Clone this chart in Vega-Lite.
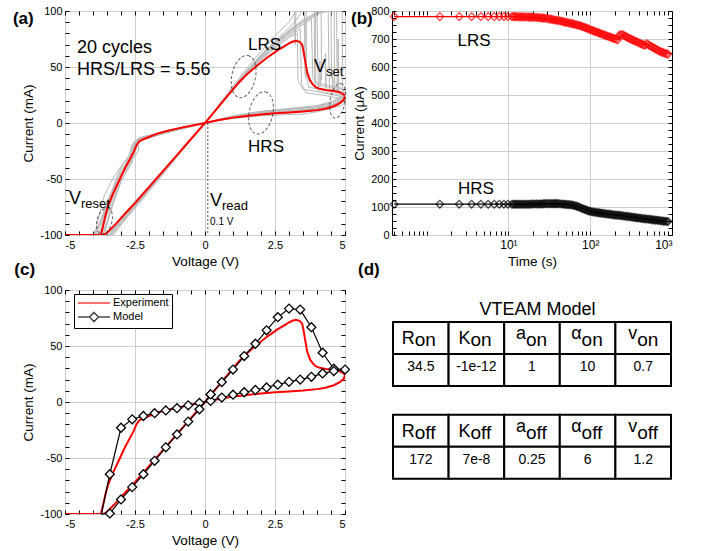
{
"$schema":"https://vega.github.io/schema/vega-lite/v6.json",
"background":"white",
"padding":{"left":12,"top":4,"right":5,"bottom":5},
"config":{
 "font":"Liberation Sans",
 "view":{"stroke":"#000","strokeWidth":1},
 "axis":{"labelFont":"Liberation Sans","labelFontSize":11,"labelColor":"#000","titleFont":"Liberation Sans","titleFontSize":13.5,"titleFontWeight":"normal","titleColor":"#000","tickColor":"#000","domain":false,"gridColor":"#cfcfcf","gridWidth":1,"tickSize":-4,"labelPadding":8,"titlePadding":4},
 "text":{"font":"Liberation Sans","color":"#000"}
},
"resolve":{"scale":{"color":"independent","shape":"independent"},"legend":{"color":"independent","shape":"independent"}},
"datasets":{
"gray":[
{"c":1,"v":0,"i":0},{"c":1,"v":0.5,"i":3},{"c":1,"v":1,"i":5.5},{"c":1,"v":2,"i":9},{"c":1,"v":3,"i":11},{"c":1,"v":4,"i":13.5},{"c":1,"v":4.5,"i":16},{"c":1,"v":4.8,"i":19},{"c":1,"v":5,"i":22},{"c":1,"v":4.8,"i":27},{"c":1,"v":4.3,"i":29},{"c":1,"v":3.7,"i":32},{"c":1,"v":3.62,"i":45},{"c":1,"v":3.6,"i":89},{"c":1,"v":3.5,"i":88},{"c":1,"v":3,"i":79},{"c":1,"v":2.5,"i":69},{"c":1,"v":2,"i":58},{"c":1,"v":1.5,"i":45},{"c":1,"v":1,"i":30},{"c":1,"v":0.5,"i":15},{"c":1,"v":0,"i":0},{"c":1,"v":-1,"i":-28.5},{"c":1,"v":-2,"i":-57},{"c":1,"v":-3,"i":-86},{"c":1,"v":-3.45,"i":-100},{"c":1,"v":-5,"i":-100},{"c":1,"v":-3.8,"i":-100},{"c":1,"v":-3.5,"i":-80},{"c":1,"v":-3.2,"i":-58},{"c":1,"v":-2.9,"i":-42},{"c":1,"v":-2.6,"i":-30},{"c":1,"v":-2.55,"i":-20},{"c":1,"v":-2.45,"i":-18},{"c":1,"v":-2.4,"i":-14},{"c":1,"v":-2,"i":-11},{"c":1,"v":-1.5,"i":-8},{"c":1,"v":-1,"i":-5},{"c":1,"v":-0.5,"i":-2.5},{"c":1,"v":0,"i":0},
{"c":2,"v":0,"i":0},{"c":2,"v":0.5,"i":2.5},{"c":2,"v":1,"i":4.8},{"c":2,"v":2,"i":8},{"c":2,"v":3,"i":10},{"c":2,"v":4,"i":12.5},{"c":2,"v":4.5,"i":15},{"c":2,"v":4.8,"i":17},{"c":2,"v":5,"i":20},{"c":2,"v":4.8,"i":24},{"c":2,"v":4.4,"i":26},{"c":2,"v":4.05,"i":28},{"c":2,"v":4,"i":97},{"c":2,"v":3.5,"i":90},{"c":2,"v":3,"i":81},{"c":2,"v":2.5,"i":71},{"c":2,"v":2,"i":60},{"c":2,"v":1.5,"i":46},{"c":2,"v":1,"i":31},{"c":2,"v":0.5,"i":15.5},{"c":2,"v":0,"i":0},{"c":2,"v":-1,"i":-29.5},{"c":2,"v":-2,"i":-59},{"c":2,"v":-3,"i":-88},{"c":2,"v":-3.4,"i":-100},{"c":2,"v":-5,"i":-100},{"c":2,"v":-3.95,"i":-100},{"c":2,"v":-3.7,"i":-85},{"c":2,"v":-3.4,"i":-65},{"c":2,"v":-3,"i":-45},{"c":2,"v":-2.7,"i":-35},{"c":2,"v":-2.62,"i":-22},{"c":2,"v":-2.5,"i":-19},{"c":2,"v":-2.3,"i":-16},{"c":2,"v":-2,"i":-12.5},{"c":2,"v":-1.5,"i":-9},{"c":2,"v":-1,"i":-6},{"c":2,"v":-0.5,"i":-3},{"c":2,"v":0,"i":0},
{"c":3,"v":0,"i":0},{"c":3,"v":0.5,"i":3.2},{"c":3,"v":1,"i":6},{"c":3,"v":2,"i":10},{"c":3,"v":3,"i":12.5},{"c":3,"v":4,"i":15},{"c":3,"v":4.5,"i":18},{"c":3,"v":4.8,"i":21},{"c":3,"v":5,"i":25},{"c":3,"v":4.8,"i":28},{"c":3,"v":4.45,"i":30},{"c":3,"v":4.42,"i":60},{"c":3,"v":4.4,"i":100},{"c":3,"v":4.2,"i":100},{"c":3,"v":4,"i":99},{"c":3,"v":3.5,"i":92},{"c":3,"v":3,"i":83},{"c":3,"v":2.5,"i":72},{"c":3,"v":2,"i":61},{"c":3,"v":1.5,"i":47},{"c":3,"v":1,"i":31.5},{"c":3,"v":0.5,"i":15.8},{"c":3,"v":0,"i":0},{"c":3,"v":-1,"i":-30},{"c":3,"v":-2,"i":-60},{"c":3,"v":-3,"i":-90},{"c":3,"v":-3.33,"i":-100},{"c":3,"v":-5,"i":-100},{"c":3,"v":-3.9,"i":-100},{"c":3,"v":-3.6,"i":-78},{"c":3,"v":-3.3,"i":-60},{"c":3,"v":-3,"i":-48},{"c":3,"v":-2.75,"i":-38},{"c":3,"v":-2.6,"i":-32},{"c":3,"v":-2.5,"i":-22},{"c":3,"v":-2.45,"i":-17},{"c":3,"v":-2.2,"i":-15},{"c":3,"v":-2,"i":-13},{"c":3,"v":-1.5,"i":-9.5},{"c":3,"v":-1,"i":-6.2},{"c":3,"v":-0.5,"i":-3.2},{"c":3,"v":0,"i":0},
{"c":4,"v":0,"i":0},{"c":4,"v":0.5,"i":2.2},{"c":4,"v":1,"i":4},{"c":4,"v":2,"i":6.5},{"c":4,"v":3,"i":7.5},{"c":4,"v":3.5,"i":8},{"c":4,"v":4,"i":10},{"c":4,"v":4.5,"i":13},{"c":4,"v":4.8,"i":15},{"c":4,"v":5,"i":18},{"c":4,"v":4.8,"i":22},{"c":4,"v":4.2,"i":25},{"c":4,"v":3.6,"i":27},{"c":4,"v":3.45,"i":35},{"c":4,"v":3.4,"i":84},{"c":4,"v":3,"i":77},{"c":4,"v":2.5,"i":67.5},{"c":4,"v":2,"i":57},{"c":4,"v":1.5,"i":44},{"c":4,"v":1,"i":29.5},{"c":4,"v":0.5,"i":14.7},{"c":4,"v":0,"i":0},{"c":4,"v":-1,"i":-28},{"c":4,"v":-2,"i":-56},{"c":4,"v":-3,"i":-84},{"c":4,"v":-3.55,"i":-100},{"c":4,"v":-5,"i":-100},{"c":4,"v":-3.7,"i":-100},{"c":4,"v":-3.5,"i":-88},{"c":4,"v":-3.3,"i":-72},{"c":4,"v":-3.1,"i":-55},{"c":4,"v":-2.85,"i":-40},{"c":4,"v":-2.55,"i":-27},{"c":4,"v":-2.5,"i":-16},{"c":4,"v":-2.3,"i":-14},{"c":4,"v":-2,"i":-11.5},{"c":4,"v":-1.5,"i":-8},{"c":4,"v":-1,"i":-5},{"c":4,"v":-0.5,"i":-2.3},{"c":4,"v":0,"i":0},
{"c":5,"v":0,"i":0},{"c":5,"v":0.5,"i":2.8},{"c":5,"v":1,"i":5.2},{"c":5,"v":2,"i":8.5},{"c":5,"v":3,"i":10.5},{"c":5,"v":4,"i":13},{"c":5,"v":4.5,"i":16},{"c":5,"v":4.8,"i":20},{"c":5,"v":5,"i":24},{"c":5,"v":4.85,"i":27},{"c":5,"v":4.72,"i":30},{"c":5,"v":4.7,"i":100},{"c":5,"v":4.4,"i":100},{"c":5,"v":4,"i":97},{"c":5,"v":3.5,"i":90},{"c":5,"v":3,"i":80.5},{"c":5,"v":2.5,"i":70.5},{"c":5,"v":2,"i":59},{"c":5,"v":1.5,"i":46},{"c":5,"v":1,"i":30.6},{"c":5,"v":0.5,"i":15.3},{"c":5,"v":0,"i":0},{"c":5,"v":-1,"i":-29},{"c":5,"v":-2,"i":-58},{"c":5,"v":-3,"i":-87},{"c":5,"v":-3.45,"i":-100},{"c":5,"v":-5,"i":-100},{"c":5,"v":-3.85,"i":-100},{"c":5,"v":-3.6,"i":-90},{"c":5,"v":-3.4,"i":-75},{"c":5,"v":-3.2,"i":-60},{"c":5,"v":-2.95,"i":-45},{"c":5,"v":-2.7,"i":-28},{"c":5,"v":-2.6,"i":-19},{"c":5,"v":-2.4,"i":-15},{"c":5,"v":-2,"i":-12},{"c":5,"v":-1.5,"i":-8.5},{"c":5,"v":-1,"i":-5.5},{"c":5,"v":-0.5,"i":-2.7},{"c":5,"v":0,"i":0},
{"c":6,"v":0,"i":0},{"c":6,"v":0.5,"i":3},{"c":6,"v":1,"i":5.8},{"c":6,"v":2,"i":9.5},{"c":6,"v":3,"i":12},{"c":6,"v":4,"i":14.5},{"c":6,"v":4.5,"i":17.5},{"c":6,"v":4.8,"i":22},{"c":6,"v":5,"i":26},{"c":6,"v":4.9,"i":30},{"c":6,"v":4.5,"i":33},{"c":6,"v":4,"i":36},{"c":6,"v":3.85,"i":40},{"c":6,"v":3.8,"i":93},{"c":6,"v":3.5,"i":88},{"c":6,"v":3,"i":79},{"c":6,"v":2.5,"i":69},{"c":6,"v":2,"i":58},{"c":6,"v":1.5,"i":45},{"c":6,"v":1,"i":30},{"c":6,"v":0.5,"i":15},{"c":6,"v":0,"i":0},{"c":6,"v":-1,"i":-28.8},{"c":6,"v":-2,"i":-57.5},{"c":6,"v":-3,"i":-86.5},{"c":6,"v":-3.45,"i":-100},{"c":6,"v":-5,"i":-100},{"c":6,"v":-4,"i":-100},{"c":6,"v":-3.75,"i":-92},{"c":6,"v":-3.5,"i":-74},{"c":6,"v":-3.25,"i":-55},{"c":6,"v":-3,"i":-40},{"c":6,"v":-2.75,"i":-30},{"c":6,"v":-2.45,"i":-24},{"c":6,"v":-2.4,"i":-17},{"c":6,"v":-2.2,"i":-14},{"c":6,"v":-2,"i":-12},{"c":6,"v":-1.5,"i":-8.8},{"c":6,"v":-1,"i":-5.8},{"c":6,"v":-0.5,"i":-2.8},{"c":6,"v":0,"i":0},
{"c":7,"v":0,"i":0},{"c":7,"v":0.5,"i":2.7},{"c":7,"v":1,"i":5},{"c":7,"v":2,"i":8.3},{"c":7,"v":3,"i":10.3},{"c":7,"v":4,"i":12.8},{"c":7,"v":4.5,"i":15.5},{"c":7,"v":4.8,"i":19},{"c":7,"v":5,"i":23},{"c":7,"v":4.92,"i":28},{"c":7,"v":4.9,"i":100},{"c":7,"v":4.2,"i":100},{"c":7,"v":4,"i":98},{"c":7,"v":3.5,"i":91.5},{"c":7,"v":3,"i":82},{"c":7,"v":2.5,"i":71.7},{"c":7,"v":2,"i":60.3},{"c":7,"v":1.5,"i":46.8},{"c":7,"v":1,"i":31.2},{"c":7,"v":0.5,"i":15.6},{"c":7,"v":0,"i":0},{"c":7,"v":-1,"i":-29.8},{"c":7,"v":-2,"i":-59.5},{"c":7,"v":-3,"i":-89},{"c":7,"v":-3.37,"i":-100},{"c":7,"v":-5,"i":-100},{"c":7,"v":-3.75,"i":-100},{"c":7,"v":-3.55,"i":-85},{"c":7,"v":-3.35,"i":-68},{"c":7,"v":-3.1,"i":-52},{"c":7,"v":-2.85,"i":-38},{"c":7,"v":-2.55,"i":-28},{"c":7,"v":-2.5,"i":-18},{"c":7,"v":-2.3,"i":-15.5},{"c":7,"v":-2,"i":-12.8},{"c":7,"v":-1.5,"i":-9.2},{"c":7,"v":-1,"i":-6},{"c":7,"v":-0.5,"i":-3},{"c":7,"v":0,"i":0},
{"c":8,"v":0,"i":0},{"c":8,"v":0.5,"i":2.4},{"c":8,"v":1,"i":4.5},{"c":8,"v":2,"i":7.2},{"c":8,"v":3,"i":9},{"c":8,"v":4,"i":11},{"c":8,"v":4.5,"i":13.5},{"c":8,"v":4.8,"i":16.5},{"c":8,"v":5,"i":21},{"c":8,"v":4.85,"i":25},{"c":8,"v":4.3,"i":27},{"c":8,"v":3.5,"i":30},{"c":8,"v":3.32,"i":38},{"c":8,"v":3.3,"i":80},{"c":8,"v":3,"i":76.5},{"c":8,"v":2.5,"i":67},{"c":8,"v":2,"i":56},{"c":8,"v":1.5,"i":43.6},{"c":8,"v":1,"i":29},{"c":8,"v":0.5,"i":14.5},{"c":8,"v":0,"i":0},{"c":8,"v":-1,"i":-28.2},{"c":8,"v":-2,"i":-56.5},{"c":8,"v":-3,"i":-85},{"c":8,"v":-3.52,"i":-100},{"c":8,"v":-5,"i":-100},{"c":8,"v":-3.65,"i":-100},{"c":8,"v":-3.45,"i":-86},{"c":8,"v":-3.25,"i":-70},{"c":8,"v":-3.05,"i":-56},{"c":8,"v":-2.8,"i":-42},{"c":8,"v":-2.6,"i":-33},{"c":8,"v":-2.38,"i":-25},{"c":8,"v":-2.35,"i":-13},{"c":8,"v":-2,"i":-11},{"c":8,"v":-1.5,"i":-7.8},{"c":8,"v":-1,"i":-4.8},{"c":8,"v":-0.5,"i":-2.3},{"c":8,"v":0,"i":0},
{"c":9,"v":0,"i":0},{"c":9,"v":0.5,"i":3.5},{"c":9,"v":1,"i":6.5},{"c":9,"v":2,"i":10.5},{"c":9,"v":3,"i":13},{"c":9,"v":4,"i":15.5},{"c":9,"v":4.5,"i":19},{"c":9,"v":5,"i":26},{"c":9,"v":4.6,"i":31},{"c":9,"v":4,"i":34},{"c":9,"v":3.92,"i":36},{"c":9,"v":3.9,"i":100},{"c":9,"v":3.25,"i":100},{"c":9,"v":3,"i":90},{"c":9,"v":2.5,"i":78},{"c":9,"v":2,"i":64},{"c":9,"v":1.5,"i":49},{"c":9,"v":1,"i":33},{"c":9,"v":0.5,"i":16.5},{"c":9,"v":0,"i":0},{"c":9,"v":-1,"i":-30.5},{"c":9,"v":-2,"i":-61},{"c":9,"v":-3,"i":-91},{"c":9,"v":-3.28,"i":-100},{"c":9,"v":-5,"i":-100},{"c":9,"v":-3.95,"i":-100},{"c":9,"v":-3.7,"i":-90},{"c":9,"v":-3.45,"i":-72},{"c":9,"v":-3.15,"i":-50},{"c":9,"v":-2.9,"i":-38},{"c":9,"v":-2.65,"i":-33},{"c":9,"v":-2.6,"i":-24},{"c":9,"v":-2.5,"i":-20},{"c":9,"v":-2.2,"i":-15},{"c":9,"v":-2,"i":-13.5},{"c":9,"v":-1.5,"i":-9.5},{"c":9,"v":-1,"i":-6.4},{"c":9,"v":-0.5,"i":-3.2},{"c":9,"v":0,"i":0},
{"c":10,"v":4.3,"i":30},{"c":10,"v":4.3,"i":62},{"c":10,"v":4.33,"i":31},
{"c":11,"v":4.55,"i":28},{"c":11,"v":4.55,"i":48},{"c":11,"v":4.58,"i":29},
{"c":12,"v":3.95,"i":33},{"c":12,"v":3.95,"i":100},
{"c":13,"v":4.62,"i":29},{"c":13,"v":4.62,"i":100},
{"c":14,"v":3.2,"i":100},{"c":14,"v":3.22,"i":70},{"c":14,"v":3.25,"i":100},
{"c":15,"v":4.1,"i":32},{"c":15,"v":4.1,"i":55},{"c":15,"v":4.13,"i":33},
{"c":16,"v":4.75,"i":27},{"c":16,"v":4.75,"i":75},{"c":16,"v":4.78,"i":28},
{"c":17,"v":0,"i":0},{"c":17,"v":-1,"i":-5.8},{"c":17,"v":-2,"i":-12},{"c":17,"v":-2.45,"i":-15},{"c":17,"v":-2.5,"i":-28},{"c":17,"v":-2.9,"i":-35},{"c":17,"v":-3.3,"i":-50},{"c":17,"v":-3.6,"i":-65},{"c":17,"v":-3.8,"i":-85},{"c":17,"v":-3.95,"i":-100},
{"c":18,"v":0,"i":0},{"c":18,"v":-1,"i":-6},{"c":18,"v":-2,"i":-13},{"c":18,"v":-2.55,"i":-17},{"c":18,"v":-2.6,"i":-35},{"c":18,"v":-3,"i":-52},{"c":18,"v":-3.3,"i":-72},{"c":18,"v":-3.5,"i":-90},{"c":18,"v":-3.6,"i":-100},
{"c":19,"v":0,"i":0},{"c":19,"v":1,"i":31},{"c":19,"v":2,"i":61},{"c":19,"v":2.5,"i":73},{"c":19,"v":3,"i":85},{"c":19,"v":3.3,"i":93},{"c":19,"v":3.45,"i":100},{"c":19,"v":4.5,"i":100},{"c":19,"v":4.52,"i":40},{"c":19,"v":5,"i":28},
{"c":20,"v":3.55,"i":100},{"c":20,"v":3.57,"i":45},{"c":20,"v":3.6,"i":40},{"c":20,"v":3.62,"i":100},
{"c":21,"v":4.15,"i":100},{"c":21,"v":4.16,"i":38}
],
"red":[
{"v":0,"i":0},{"v":0.25,"i":1.3},{"v":0.5,"i":2.6},{"v":1,"i":4.8},{"v":1.5,"i":6.3},{"v":2,"i":7.6},{"v":2.5,"i":8.6},{"v":3,"i":9.4},{"v":3.5,"i":10.2},{"v":4,"i":11.5},{"v":4.3,"i":12.8},{"v":4.6,"i":15},{"v":4.8,"i":17.5},{"v":4.95,"i":20.5},{"v":5,"i":24},
{"v":4.95,"i":25.5},{"v":4.8,"i":27.5},{"v":4.6,"i":28.5},{"v":4.3,"i":29.5},{"v":4.1,"i":30.5},{"v":3.95,"i":32},{"v":3.85,"i":34.5},{"v":3.75,"i":38},{"v":3.65,"i":45},{"v":3.58,"i":55},{"v":3.52,"i":64},{"v":3.47,"i":70},{"v":3.38,"i":72.5},{"v":3.25,"i":73.5},{"v":3.12,"i":72.5},{"v":3,"i":71},{"v":2.8,"i":68},{"v":2.6,"i":65},{"v":2.4,"i":61.5},{"v":2.2,"i":58},{"v":2,"i":54},{"v":1.8,"i":50},{"v":1.5,"i":43.5},{"v":1.2,"i":36},{"v":1,"i":30},{"v":0.7,"i":21},{"v":0.4,"i":12},{"v":0.2,"i":6},{"v":0,"i":0},
{"v":-0.5,"i":-14.3},{"v":-1,"i":-28.7},{"v":-1.5,"i":-43},{"v":-2,"i":-57.3},{"v":-2.5,"i":-71.5},{"v":-2.8,"i":-79.5},{"v":-3,"i":-85},{"v":-3.2,"i":-90.5},{"v":-3.4,"i":-95.5},{"v":-3.55,"i":-99},{"v":-3.65,"i":-100},{"v":-5,"i":-100},
{"v":-3.72,"i":-100},{"v":-3.65,"i":-93},{"v":-3.55,"i":-82},{"v":-3.45,"i":-73},{"v":-3.3,"i":-64},{"v":-3.15,"i":-56},{"v":-3,"i":-48},{"v":-2.85,"i":-40},{"v":-2.7,"i":-33},{"v":-2.55,"i":-26},{"v":-2.45,"i":-20},{"v":-2.35,"i":-16.5},{"v":-2.2,"i":-14.5},{"v":-2,"i":-12.5},{"v":-1.7,"i":-9.5},{"v":-1.4,"i":-7.3},{"v":-1,"i":-5},{"v":-0.5,"i":-2.4},{"v":0,"i":0}
],
"model":[
{"v":0.2,"i":6.8},{"v":0.6,"i":17.8},{"v":1,"i":29},{"v":1.4,"i":41},{"v":1.8,"i":52},{"v":2.2,"i":64},{"v":2.6,"i":75.7},{"v":3,"i":83.4},{"v":3.4,"i":82.5},{"v":3.8,"i":66.8},{"v":4.2,"i":44},{"v":4.6,"i":29.7},{"v":5,"i":29},
{"v":4.6,"i":27.6},{"v":4.2,"i":25.5},{"v":3.8,"i":22.5},{"v":3.4,"i":20},{"v":3,"i":18},{"v":2.6,"i":15.5},{"v":2.2,"i":13},{"v":1.8,"i":10.7},{"v":1.4,"i":8.7},{"v":1,"i":6.5},{"v":0.6,"i":4},{"v":0.2,"i":1},
{"v":-0.2,"i":-0.8},{"v":-0.6,"i":-3},{"v":-1,"i":-5.5},{"v":-1.4,"i":-7.5},{"v":-1.8,"i":-10},{"v":-2.2,"i":-12.5},{"v":-2.6,"i":-15.5},{"v":-3,"i":-23},{"v":-3.4,"i":-64.5},{"v":-3.7,"i":-100},
{"v":-3.4,"i":-99.5},{"v":-3,"i":-87},{"v":-2.6,"i":-76},{"v":-2.2,"i":-64.5},{"v":-1.8,"i":-52.5},{"v":-1.4,"i":-40.5},{"v":-1,"i":-29},{"v":-0.6,"i":-17.5},{"v":-0.2,"i":-6.5},{"v":0.2,"i":6.8}
],
"ret":[
{"s":"LRS","t":0.4,"i":780},{"s":"LRS","t":1.45,"i":780},{"s":"LRS","t":2.5,"i":780},{"s":"LRS","t":3.55,"i":780},{"s":"LRS","t":4.6,"i":780},{"s":"LRS","t":5.65,"i":780},{"s":"LRS","t":6.7,"i":780},{"s":"LRS","t":7.75,"i":780},{"s":"LRS","t":8.8,"i":780},{"s":"LRS","t":9.85,"i":780},
{"s":"LRS","t":11,"i":780},{"s":"LRS","t":12,"i":780},{"s":"LRS","t":13,"i":779.5},{"s":"LRS","t":14.2,"i":779},{"s":"LRS","t":15.5,"i":779},{"s":"LRS","t":17,"i":778.5},{"s":"LRS","t":18.5,"i":778},{"s":"LRS","t":20,"i":777.5},{"s":"LRS","t":22,"i":777},{"s":"LRS","t":24,"i":776},{"s":"LRS","t":26,"i":775},{"s":"LRS","t":28,"i":774},{"s":"LRS","t":31,"i":772},{"s":"LRS","t":34,"i":770},{"s":"LRS","t":37,"i":768},{"s":"LRS","t":40,"i":766},{"s":"LRS","t":44,"i":764},{"s":"LRS","t":48,"i":761},{"s":"LRS","t":52,"i":759},{"s":"LRS","t":57,"i":756},{"s":"LRS","t":62,"i":754},{"s":"LRS","t":68,"i":751},{"s":"LRS","t":74,"i":748},{"s":"LRS","t":81,"i":744},{"s":"LRS","t":88,"i":740},{"s":"LRS","t":96,"i":736},{"s":"LRS","t":105,"i":731},{"s":"LRS","t":114,"i":727},{"s":"LRS","t":124,"i":723},{"s":"LRS","t":135,"i":719},{"s":"LRS","t":147,"i":715},{"s":"LRS","t":160,"i":711},{"s":"LRS","t":175,"i":707},{"s":"LRS","t":190,"i":703},{"s":"LRS","t":207,"i":699},{"s":"LRS","t":226,"i":713},{"s":"LRS","t":246,"i":716},{"s":"LRS","t":268,"i":710},{"s":"LRS","t":292,"i":704},{"s":"LRS","t":318,"i":699},{"s":"LRS","t":347,"i":694},{"s":"LRS","t":378,"i":689},{"s":"LRS","t":412,"i":684},{"s":"LRS","t":449,"i":679},{"s":"LRS","t":490,"i":683},{"s":"LRS","t":534,"i":676},{"s":"LRS","t":582,"i":670},{"s":"LRS","t":634,"i":664},{"s":"LRS","t":691,"i":658},{"s":"LRS","t":753,"i":653},{"s":"LRS","t":820,"i":649},{"s":"LRS","t":894,"i":646},
{"s":"LRS","t":11.5,"i":780},{"s":"LRS","t":12.5,"i":779.5},{"s":"LRS","t":13.6,"i":779},{"s":"LRS","t":14.8,"i":779},{"s":"LRS","t":16.2,"i":778.5},{"s":"LRS","t":17.7,"i":778},{"s":"LRS","t":19.2,"i":778},{"s":"LRS","t":21,"i":777},{"s":"LRS","t":23,"i":776.5},{"s":"LRS","t":25,"i":775.5},{"s":"LRS","t":27,"i":774.5},{"s":"LRS","t":29.5,"i":773},{"s":"LRS","t":32.5,"i":771},{"s":"LRS","t":35.5,"i":769},{"s":"LRS","t":38.5,"i":767},{"s":"LRS","t":42,"i":765},{"s":"LRS","t":46,"i":762},{"s":"LRS","t":50,"i":760},{"s":"LRS","t":54.5,"i":757},{"s":"LRS","t":59.5,"i":755},{"s":"LRS","t":65,"i":752},{"s":"LRS","t":71,"i":749},{"s":"LRS","t":77.5,"i":746},{"s":"LRS","t":84.5,"i":742},{"s":"LRS","t":92,"i":738},{"s":"LRS","t":100,"i":733},{"s":"LRS","t":109.5,"i":729},{"s":"LRS","t":119,"i":725},{"s":"LRS","t":129.5,"i":721},{"s":"LRS","t":141,"i":717},{"s":"LRS","t":153.5,"i":713},{"s":"LRS","t":167.5,"i":709},{"s":"LRS","t":182.5,"i":705},{"s":"LRS","t":198.5,"i":701},{"s":"LRS","t":216,"i":697},{"s":"LRS","t":236,"i":715},{"s":"LRS","t":257,"i":713},{"s":"LRS","t":280,"i":707},{"s":"LRS","t":305,"i":701},{"s":"LRS","t":332,"i":696},{"s":"LRS","t":362,"i":691},{"s":"LRS","t":395,"i":686},{"s":"LRS","t":430,"i":681},{"s":"LRS","t":469,"i":678},{"s":"LRS","t":512,"i":680},{"s":"LRS","t":558,"i":673},{"s":"LRS","t":608,"i":667},{"s":"LRS","t":662,"i":661},{"s":"LRS","t":722,"i":655},{"s":"LRS","t":786,"i":651},{"s":"LRS","t":857,"i":647},
{"s":"HRS","t":0.4,"i":110},{"s":"HRS","t":1.45,"i":110},{"s":"HRS","t":2.5,"i":110},{"s":"HRS","t":3.55,"i":110},{"s":"HRS","t":4.6,"i":110},{"s":"HRS","t":5.65,"i":110},{"s":"HRS","t":6.7,"i":110},{"s":"HRS","t":7.75,"i":110},{"s":"HRS","t":8.8,"i":110},{"s":"HRS","t":9.85,"i":110},
{"s":"HRS","t":11,"i":110},{"s":"HRS","t":12,"i":110},{"s":"HRS","t":13,"i":110},{"s":"HRS","t":14.2,"i":110},{"s":"HRS","t":15.5,"i":110},{"s":"HRS","t":17,"i":110},{"s":"HRS","t":18.5,"i":110},{"s":"HRS","t":20,"i":111},{"s":"HRS","t":22,"i":111},{"s":"HRS","t":24,"i":111},{"s":"HRS","t":26,"i":111},{"s":"HRS","t":28,"i":112},{"s":"HRS","t":31,"i":112},{"s":"HRS","t":34,"i":112},{"s":"HRS","t":37,"i":112},{"s":"HRS","t":40,"i":112},{"s":"HRS","t":44,"i":111},{"s":"HRS","t":48,"i":110},{"s":"HRS","t":52,"i":109},{"s":"HRS","t":57,"i":108},{"s":"HRS","t":62,"i":106},{"s":"HRS","t":68,"i":103},{"s":"HRS","t":74,"i":99},{"s":"HRS","t":81,"i":94},{"s":"HRS","t":88,"i":90},{"s":"HRS","t":96,"i":86},{"s":"HRS","t":105,"i":83},{"s":"HRS","t":114,"i":81},{"s":"HRS","t":124,"i":80},{"s":"HRS","t":135,"i":78},{"s":"HRS","t":147,"i":77},{"s":"HRS","t":160,"i":75},{"s":"HRS","t":175,"i":74},{"s":"HRS","t":190,"i":72},{"s":"HRS","t":207,"i":71},{"s":"HRS","t":226,"i":70},{"s":"HRS","t":246,"i":69},{"s":"HRS","t":268,"i":67},{"s":"HRS","t":292,"i":66},{"s":"HRS","t":318,"i":64},{"s":"HRS","t":347,"i":63},{"s":"HRS","t":378,"i":61},{"s":"HRS","t":412,"i":60},{"s":"HRS","t":449,"i":58},{"s":"HRS","t":490,"i":57},{"s":"HRS","t":534,"i":56},{"s":"HRS","t":582,"i":54},{"s":"HRS","t":634,"i":53},{"s":"HRS","t":691,"i":52},{"s":"HRS","t":753,"i":50},{"s":"HRS","t":820,"i":49},{"s":"HRS","t":894,"i":48},
{"s":"HRS","t":11.5,"i":110},{"s":"HRS","t":12.5,"i":110},{"s":"HRS","t":13.6,"i":110},{"s":"HRS","t":14.8,"i":110},{"s":"HRS","t":16.2,"i":110},{"s":"HRS","t":17.7,"i":110},{"s":"HRS","t":19.2,"i":110.5},{"s":"HRS","t":21,"i":111},{"s":"HRS","t":23,"i":111},{"s":"HRS","t":25,"i":111},{"s":"HRS","t":27,"i":111.5},{"s":"HRS","t":29.5,"i":112},{"s":"HRS","t":32.5,"i":112},{"s":"HRS","t":35.5,"i":112},{"s":"HRS","t":38.5,"i":112},{"s":"HRS","t":42,"i":111.5},{"s":"HRS","t":46,"i":110.5},{"s":"HRS","t":50,"i":109.5},{"s":"HRS","t":54.5,"i":108.5},{"s":"HRS","t":59.5,"i":107},{"s":"HRS","t":65,"i":104.5},{"s":"HRS","t":71,"i":101},{"s":"HRS","t":77.5,"i":96.5},{"s":"HRS","t":84.5,"i":92},{"s":"HRS","t":92,"i":88},{"s":"HRS","t":100,"i":84.5},{"s":"HRS","t":109.5,"i":82},{"s":"HRS","t":119,"i":80.5},{"s":"HRS","t":129.5,"i":79},{"s":"HRS","t":141,"i":77.5},{"s":"HRS","t":153.5,"i":76},{"s":"HRS","t":167.5,"i":74.5},{"s":"HRS","t":182.5,"i":73},{"s":"HRS","t":198.5,"i":71.5},{"s":"HRS","t":216,"i":70.5},{"s":"HRS","t":236,"i":69.5},{"s":"HRS","t":257,"i":68},{"s":"HRS","t":280,"i":66.5},{"s":"HRS","t":305,"i":65},{"s":"HRS","t":332,"i":63.5},{"s":"HRS","t":362,"i":62},{"s":"HRS","t":395,"i":60.5},{"s":"HRS","t":430,"i":59},{"s":"HRS","t":469,"i":57.5},{"s":"HRS","t":512,"i":56.5},{"s":"HRS","t":558,"i":55},{"s":"HRS","t":608,"i":53.5},{"s":"HRS","t":662,"i":52.5},{"s":"HRS","t":722,"i":51},{"s":"HRS","t":786,"i":49.5},{"s":"HRS","t":857,"i":48.5}
],
"vteam":[
{"tbl":1,"col":0,"p":"R","sub":"on","val":"34.5"},{"tbl":1,"col":1,"p":"K","sub":"on","val":"-1e-12"},{"tbl":1,"col":2,"p":"a","sub":"on","val":"1"},{"tbl":1,"col":3,"p":"α","sub":"on","val":"10"},{"tbl":1,"col":4,"p":"v","sub":"on","val":"0.7"},
{"tbl":2,"col":0,"p":"R","sub":"off","val":"172"},{"tbl":2,"col":1,"p":"K","sub":"off","val":"7e-8"},{"tbl":2,"col":2,"p":"a","sub":"off","val":"0.25"},{"tbl":2,"col":3,"p":"α","sub":"off","val":"6"},{"tbl":2,"col":4,"p":"v","sub":"off","val":"1.2"}
]
},
"columns":2,
"spacing":{"row":55,"column":47},
"bounds":"flush",
"concat":[
{
 "width":280,"height":224,
 "resolve":{"axis":{"x":"independent","y":"independent"}},
 "layer":[
  {"data":{"name":"gray"},"mark":{"type":"line","color":"#b9b9b9","strokeWidth":1,"clip":true},
   "encoding":{
    "x":{"field":"v","type":"quantitative","scale":{"domain":[-5,5],"nice":false,"zero":false},
      "axis":{"orient":"bottom","values":[-5,-4.5,-4,-3.5,-3,-2.5,-2,-1.5,-1,-0.5,0,0.5,1,1.5,2,2.5,3,3.5,4,4.5,5],"labelExpr":"datum.value % 2.5 === 0 ? '' + datum.value : ''","grid":true,"gridOpacity":{"condition":{"test":"datum.value % 2.5 === 0","value":1},"value":0},"title":"Voltage (V)"}},
    "y":{"field":"i","type":"quantitative","scale":{"domain":[-100,100],"nice":false,"zero":false},
      "axis":{"orient":"left","values":[-100,-90,-80,-70,-60,-50,-40,-30,-20,-10,0,10,20,30,40,50,60,70,80,90,100],"labelExpr":"datum.value % 50 === 0 ? '' + datum.value : ''","grid":true,"gridOpacity":{"condition":{"test":"datum.value % 50 === 0","value":1},"value":0},"labelPadding":7,"title":"Current (mA)"}},
    "detail":{"field":"c","type":"nominal"},
    "order":{"value":null}}},
  {"data":{"name":"red"},"mark":{"type":"line","color":"#ff0000","strokeWidth":2,"clip":true},
   "encoding":{
    "x":{"field":"v","type":"quantitative","axis":{"orient":"top","values":[-5,-4.5,-4,-3.5,-3,-2.5,-2,-1.5,-1,-0.5,0,0.5,1,1.5,2,2.5,3,3.5,4,4.5,5],"labels":false,"grid":false,"title":null}},
    "y":{"field":"i","type":"quantitative","axis":{"orient":"right","values":[-100,-90,-80,-70,-60,-50,-40,-30,-20,-10,0,10,20,30,40,50,60,70,80,90,100],"labels":false,"grid":false,"title":null}},
    "order":{"value":null}}},
  {"data":{"values":[{"v":0.1,"i0":0,"i1":-100}]},"mark":{"type":"rule","color":"#555","strokeDash":[2,2],"strokeWidth":1},
   "encoding":{"x":{"field":"v","type":"quantitative","axis":null},"y":{"field":"i0","type":"quantitative","axis":null},"y2":{"field":"i1"}}},
  {"data":{"values":[{"e":"LRS","v":1.38,"i":41.5},{"e":"HRS","v":2.0,"i":9}]},"mark":{"type":"point","shape":"M0,-1A0.55,1 0 1,1 0,1A0.55,1 0 1,1 0,-1Z","size":1849,"angle":12,"filled":false,"stroke":"#222","strokeWidth":1,"strokeDash":[3,2]},
   "encoding":{"x":{"field":"v","type":"quantitative","axis":null},"y":{"field":"i","type":"quantitative","axis":null}}},
  {"data":{"values":[{"e":"set","v":4.74,"i":19.9}]},"mark":{"type":"point","shape":"M0,-1A0.43,1 0 1,1 0,1A0.43,1 0 1,1 0,-1Z","size":1225,"angle":10,"filled":false,"stroke":"#222","strokeWidth":1,"strokeDash":[3,2]},
   "encoding":{"x":{"field":"v","type":"quantitative","axis":null},"y":{"field":"i","type":"quantitative","axis":null}}},
  {"data":{"values":[{"e":"reset","v":-3.59,"i":-87.5}]},"mark":{"type":"point","shape":"M0,-1A0.55,1 0 1,1 0,1A0.55,1 0 1,1 0,-1Z","size":729,"angle":15,"filled":false,"stroke":"#222","strokeWidth":1,"strokeDash":[3,2]},
   "encoding":{"x":{"field":"v","type":"quantitative","axis":null},"y":{"field":"i","type":"quantitative","axis":null}}},
  {"data":{"values":[{"t":"20 cycles","v":-4.57,"i":67.4},{"t":"HRS/LRS = 5.56","v":-4.57,"i":46.9}]},"mark":{"type":"text","align":"left","baseline":"middle","fontSize":18},
   "encoding":{"x":{"field":"v","type":"quantitative","axis":null},"y":{"field":"i","type":"quantitative","axis":null},"text":{"field":"t"}}},
  {"data":{"values":[{"t":"LRS","v":2.13,"i":69.2},{"t":"HRS","v":2.18,"i":-21.4}]},"mark":{"type":"text","align":"center","baseline":"middle","fontSize":17},
   "encoding":{"x":{"field":"v","type":"quantitative","axis":null},"y":{"field":"i","type":"quantitative","axis":null},"text":{"field":"t"}}},
  {"data":{"values":[{"m":"V","s":"set","v":3.89,"i":50},{"m":"V","s":"reset","v":-4.857,"i":-67.9},{"m":"V","s":"read","v":0.18,"i":-69.6}]},"mark":{"type":"text","align":"left","baseline":"middle","fontSize":18},
   "encoding":{"x":{"field":"v","type":"quantitative","axis":null},"y":{"field":"i","type":"quantitative","axis":null},"text":{"field":"m"}}},
  {"data":{"values":[{"m":"V","s":"set","v":3.89,"i":50},{"m":"V","s":"reset","v":-4.857,"i":-67.9},{"m":"V","s":"read","v":0.18,"i":-69.6}]},"mark":{"type":"text","align":"left","baseline":"middle","fontSize":13,"dx":12,"dy":5},
   "encoding":{"x":{"field":"v","type":"quantitative","axis":null},"y":{"field":"i","type":"quantitative","axis":null},"text":{"field":"s"}}},
  {"data":{"values":[{"t":"0.1 V","v":0.18,"i":-88.4}]},"mark":{"type":"text","align":"left","baseline":"middle","fontSize":10},
   "encoding":{"x":{"field":"v","type":"quantitative","axis":null},"y":{"field":"i","type":"quantitative","axis":null},"text":{"field":"t"}}},
  {"data":{"values":[{"t":"(a)","v":-6.86,"i":92.9}]},"mark":{"type":"text","align":"left","baseline":"middle","fontSize":17,"fontWeight":"bold"},
   "encoding":{"x":{"field":"v","type":"quantitative","axis":null},"y":{"field":"i","type":"quantitative","axis":null},"text":{"field":"t"}}}
 ]
},
{
 "width":280,"height":224,
 "resolve":{"axis":{"x":"independent","y":"independent"}},
 "layer":[
  {"data":{"name":"ret"},"mark":{"type":"line","strokeWidth":1.2},
   "encoding":{
    "x":{"field":"t","type":"quantitative","scale":{"type":"log","domain":[0.377,1000],"nice":false},
      "axis":{"orient":"bottom","values":[0.4,0.5,0.6,0.7,0.8,0.9,1,2,3,4,5,6,7,8,9,10,20,30,40,50,60,70,80,90,100,200,300,400,500,600,700,800,900,1000],"labelExpr":"datum.value == 10 ? '10¹' : datum.value == 100 ? '10²' : datum.value == 1000 ? '10³' : ''","grid":true,"gridOpacity":{"condition":{"test":"datum.value == 10 || datum.value == 100","value":1},"value":0},"labelFontSize":12,"title":"Time (s)"}},
    "y":{"field":"i","type":"quantitative","scale":{"domain":[0,800],"nice":false},
      "axis":{"orient":"left","values":[0,25,50,75,100,125,150,175,200,225,250,275,300,325,350,375,400,425,450,475,500,525,550,575,600,625,650,675,700,725,750,775,800],"labelExpr":"datum.value % 100 === 0 ? '' + datum.value : ''","grid":true,"gridOpacity":{"condition":{"test":"datum.value % 100 === 0","value":1},"value":0},"labelPadding":7,"title":"Current (μA)"}},
    "color":{"field":"s","type":"nominal","scale":{"domain":["LRS","HRS"],"range":["#ff0000","#000000"]},"legend":null},
    "order":{"field":"t"}}},
  {"data":{"name":"ret"},"mark":{"type":"point","shape":"diamond","size":60,"filled":false,"strokeWidth":1.3},
   "encoding":{
    "x":{"field":"t","type":"quantitative","axis":{"orient":"top","values":[0.4,0.5,0.6,0.7,0.8,0.9,1,2,3,4,5,6,7,8,9,10,20,30,40,50,60,70,80,90,100,200,300,400,500,600,700,800,900,1000],"labels":false,"grid":false,"title":null}},
    "y":{"field":"i","type":"quantitative","axis":{"orient":"right","values":[0,25,50,75,100,125,150,175,200,225,250,275,300,325,350,375,400,425,450,475,500,525,550,575,600,625,650,675,700,725,750,775,800],"labels":false,"grid":false,"title":null}},
    "color":{"field":"s","type":"nominal","legend":null}}},
  {"data":{"values":[{"t":"LRS","x":3.8,"i":693},{"t":"HRS","x":4.0,"i":164}]},"mark":{"type":"text","align":"center","baseline":"middle","fontSize":17},
   "encoding":{"x":{"field":"x","type":"quantitative","axis":null},"y":{"field":"i","type":"quantitative","axis":null},"text":{"field":"t"}}},
  {"data":{"values":[{"t":"(b)","x":0.119,"i":771}]},"mark":{"type":"text","align":"left","baseline":"middle","fontSize":17,"fontWeight":"bold"},
   "encoding":{"x":{"field":"x","type":"quantitative","axis":null},"y":{"field":"i","type":"quantitative","axis":null},"text":{"field":"t"}}}
 ]
},
{
 "width":280,"height":224,
 "resolve":{"axis":{"x":"independent","y":"independent"}},
 "layer":[
  {"data":{"name":"red"},"mark":{"type":"line","color":"#ff0000","strokeWidth":2,"clip":true},
   "encoding":{
    "x":{"field":"v","type":"quantitative","scale":{"domain":[-5,5],"nice":false,"zero":false},
      "axis":{"orient":"bottom","values":[-5,-4.5,-4,-3.5,-3,-2.5,-2,-1.5,-1,-0.5,0,0.5,1,1.5,2,2.5,3,3.5,4,4.5,5],"labelExpr":"datum.value % 2.5 === 0 ? '' + datum.value : ''","grid":true,"gridOpacity":{"condition":{"test":"datum.value % 2.5 === 0","value":1},"value":0},"title":"Voltage (V)"}},
    "y":{"field":"i","type":"quantitative","scale":{"domain":[-100,100],"nice":false,"zero":false},
      "axis":{"orient":"left","values":[-100,-90,-80,-70,-60,-50,-40,-30,-20,-10,0,10,20,30,40,50,60,70,80,90,100],"labelExpr":"datum.value % 50 === 0 ? '' + datum.value : ''","grid":true,"gridOpacity":{"condition":{"test":"datum.value % 50 === 0","value":1},"value":0},"labelPadding":7,"title":"Current (mA)"}},
    "order":{"value":null}}},
  {"data":{"name":"model"},"mark":{"type":"line","color":"#000","strokeWidth":1.2},
   "encoding":{
    "x":{"field":"v","type":"quantitative","axis":{"orient":"top","values":[-5,-4.5,-4,-3.5,-3,-2.5,-2,-1.5,-1,-0.5,0,0.5,1,1.5,2,2.5,3,3.5,4,4.5,5],"labels":false,"grid":false,"title":null}},
    "y":{"field":"i","type":"quantitative","axis":{"orient":"right","values":[-100,-90,-80,-70,-60,-50,-40,-30,-20,-10,0,10,20,30,40,50,60,70,80,90,100],"labels":false,"grid":false,"title":null}},
    "order":{"value":null}}},
  {"data":{"name":"model"},"transform":[{"filter":"datum.v != -3.7"}],"mark":{"type":"point","shape":"diamond","size":80,"filled":true,"fill":"#fff","stroke":"#000","strokeWidth":1.3,"opacity":1},
   "encoding":{"x":{"field":"v","type":"quantitative","axis":null},"y":{"field":"i","type":"quantitative","axis":null}}},
  {"data":{"values":[{"s":"Experiment"},{"s":"Model"}]},"transform":[{"filter":"false"}],"mark":{"type":"point","filled":false},
   "encoding":{
    "color":{"field":"s","type":"nominal","scale":{"domain":["Experiment","Model"],"range":["#ff0000","#000000"]},
      "legend":{"title":null,"orient":"none","legendX":9,"legendY":4,"padding":3,"strokeColor":"#000","fillColor":"#fff","symbolSize":100,"symbolStrokeWidth":1.6,"labelFontSize":11,"labelFont":"Liberation Sans","labelOffset":24,"rowPadding":1}},
    "shape":{"field":"s","type":"nominal","scale":{"domain":["Experiment","Model"],"range":["M-1,0H5.4","M-1,0H1.3M3.1,0H5.4M2.2,-0.9L3.1,0L2.2,0.9L1.3,0Z"]},
      "legend":{"title":null,"orient":"none","legendX":9,"legendY":4,"padding":3,"strokeColor":"#000","fillColor":"#fff","symbolSize":100,"symbolStrokeWidth":1.6,"labelFontSize":11,"labelFont":"Liberation Sans","labelOffset":24,"rowPadding":1}}}},
  {"data":{"values":[{"t":"(c)","v":-6.81,"i":117.9}]},"mark":{"type":"text","align":"left","baseline":"middle","fontSize":17,"fontWeight":"bold"},
   "encoding":{"x":{"field":"v","type":"quantitative","axis":null},"y":{"field":"i","type":"quantitative","axis":null},"text":{"field":"t"}}}
 ]
},
{
 "width":280,"height":224,
 "view":{"stroke":null},
 "layer":[
  {"data":{"name":"vteam"},"transform":[{"calculate":"(datum.tbl-1)*2.9","as":"top"},{"calculate":"datum.top+1","as":"mid"},{"calculate":"datum.col+1","as":"col2"}],
   "mark":{"type":"rect","fill":"#fff","stroke":"#000","strokeWidth":2},
   "encoding":{"x":{"field":"col","type":"quantitative","scale":{"domain":[-0.018,5.018],"nice":false,"zero":false},"axis":null},"x2":{"field":"col2"},
    "y":{"field":"top","type":"quantitative","scale":{"domain":[-1,6],"reverse":true,"nice":false,"zero":false},"axis":null},"y2":{"field":"mid"}}},
  {"data":{"name":"vteam"},"transform":[{"calculate":"(datum.tbl-1)*2.9+1","as":"mid"},{"calculate":"datum.mid+1","as":"bot"},{"calculate":"datum.col+1","as":"col2"}],
   "mark":{"type":"rect","fill":"#fff","stroke":"#000","strokeWidth":2},
   "encoding":{"x":{"field":"col","type":"quantitative","axis":null},"x2":{"field":"col2"},"y":{"field":"mid","type":"quantitative","axis":null},"y2":{"field":"bot"}}},
  {"data":{"name":"vteam"},"transform":[{"calculate":"(datum.tbl-1)*2.9+0.5","as":"hy"},{"calculate":"datum.col+0.5","as":"xc"},{"filter":"datum.p == 'R' || datum.p == 'K'"}],
   "mark":{"type":"text","align":"right","baseline":"alphabetic","fontSize":18,"dx":-6,"dy":6},
   "encoding":{"x":{"field":"xc","type":"quantitative","axis":null},"y":{"field":"hy","type":"quantitative","axis":null},"text":{"field":"p"}}},
  {"data":{"name":"vteam"},"transform":[{"calculate":"(datum.tbl-1)*2.9+0.5","as":"hy"},{"calculate":"datum.col+0.5","as":"xc"},{"filter":"datum.p != 'R' && datum.p != 'K'"}],
   "mark":{"type":"text","align":"right","baseline":"alphabetic","fontSize":18,"dx":-6,"dy":1},
   "encoding":{"x":{"field":"xc","type":"quantitative","axis":null},"y":{"field":"hy","type":"quantitative","axis":null},"text":{"field":"p"}}},
  {"data":{"name":"vteam"},"transform":[{"calculate":"(datum.tbl-1)*2.9+0.5","as":"hy"},{"calculate":"datum.col+0.5","as":"xc"}],
   "mark":{"type":"text","align":"left","baseline":"alphabetic","fontSize":19,"dx":-6,"dy":8},
   "encoding":{"x":{"field":"xc","type":"quantitative","axis":null},"y":{"field":"hy","type":"quantitative","axis":null},"text":{"field":"sub"}}},
  {"data":{"name":"vteam"},"transform":[{"calculate":"(datum.tbl-1)*2.9+1.5","as":"vy"},{"calculate":"datum.col+0.5","as":"xc"}],
   "mark":{"type":"text","align":"center","baseline":"middle","fontSize":14,"dy":-3},
   "encoding":{"x":{"field":"xc","type":"quantitative","axis":null},"y":{"field":"vy","type":"quantitative","axis":null},"text":{"field":"val"}}},
  {"data":{"values":[{"t":"VTEAM Model","x":2.6,"y":-0.375}]},"mark":{"type":"text","align":"center","baseline":"middle","fontSize":18},
   "encoding":{"x":{"field":"x","type":"quantitative","axis":null},"y":{"field":"y","type":"quantitative","axis":null},"text":{"field":"t"}}},
  {"data":{"values":[{"t":"(d)","x":-0.63,"y":-1.625}]},"mark":{"type":"text","align":"left","baseline":"middle","fontSize":17,"fontWeight":"bold"},
   "encoding":{"x":{"field":"x","type":"quantitative","axis":null},"y":{"field":"y","type":"quantitative","axis":null},"text":{"field":"t"}}}
 ]
}
]
}
